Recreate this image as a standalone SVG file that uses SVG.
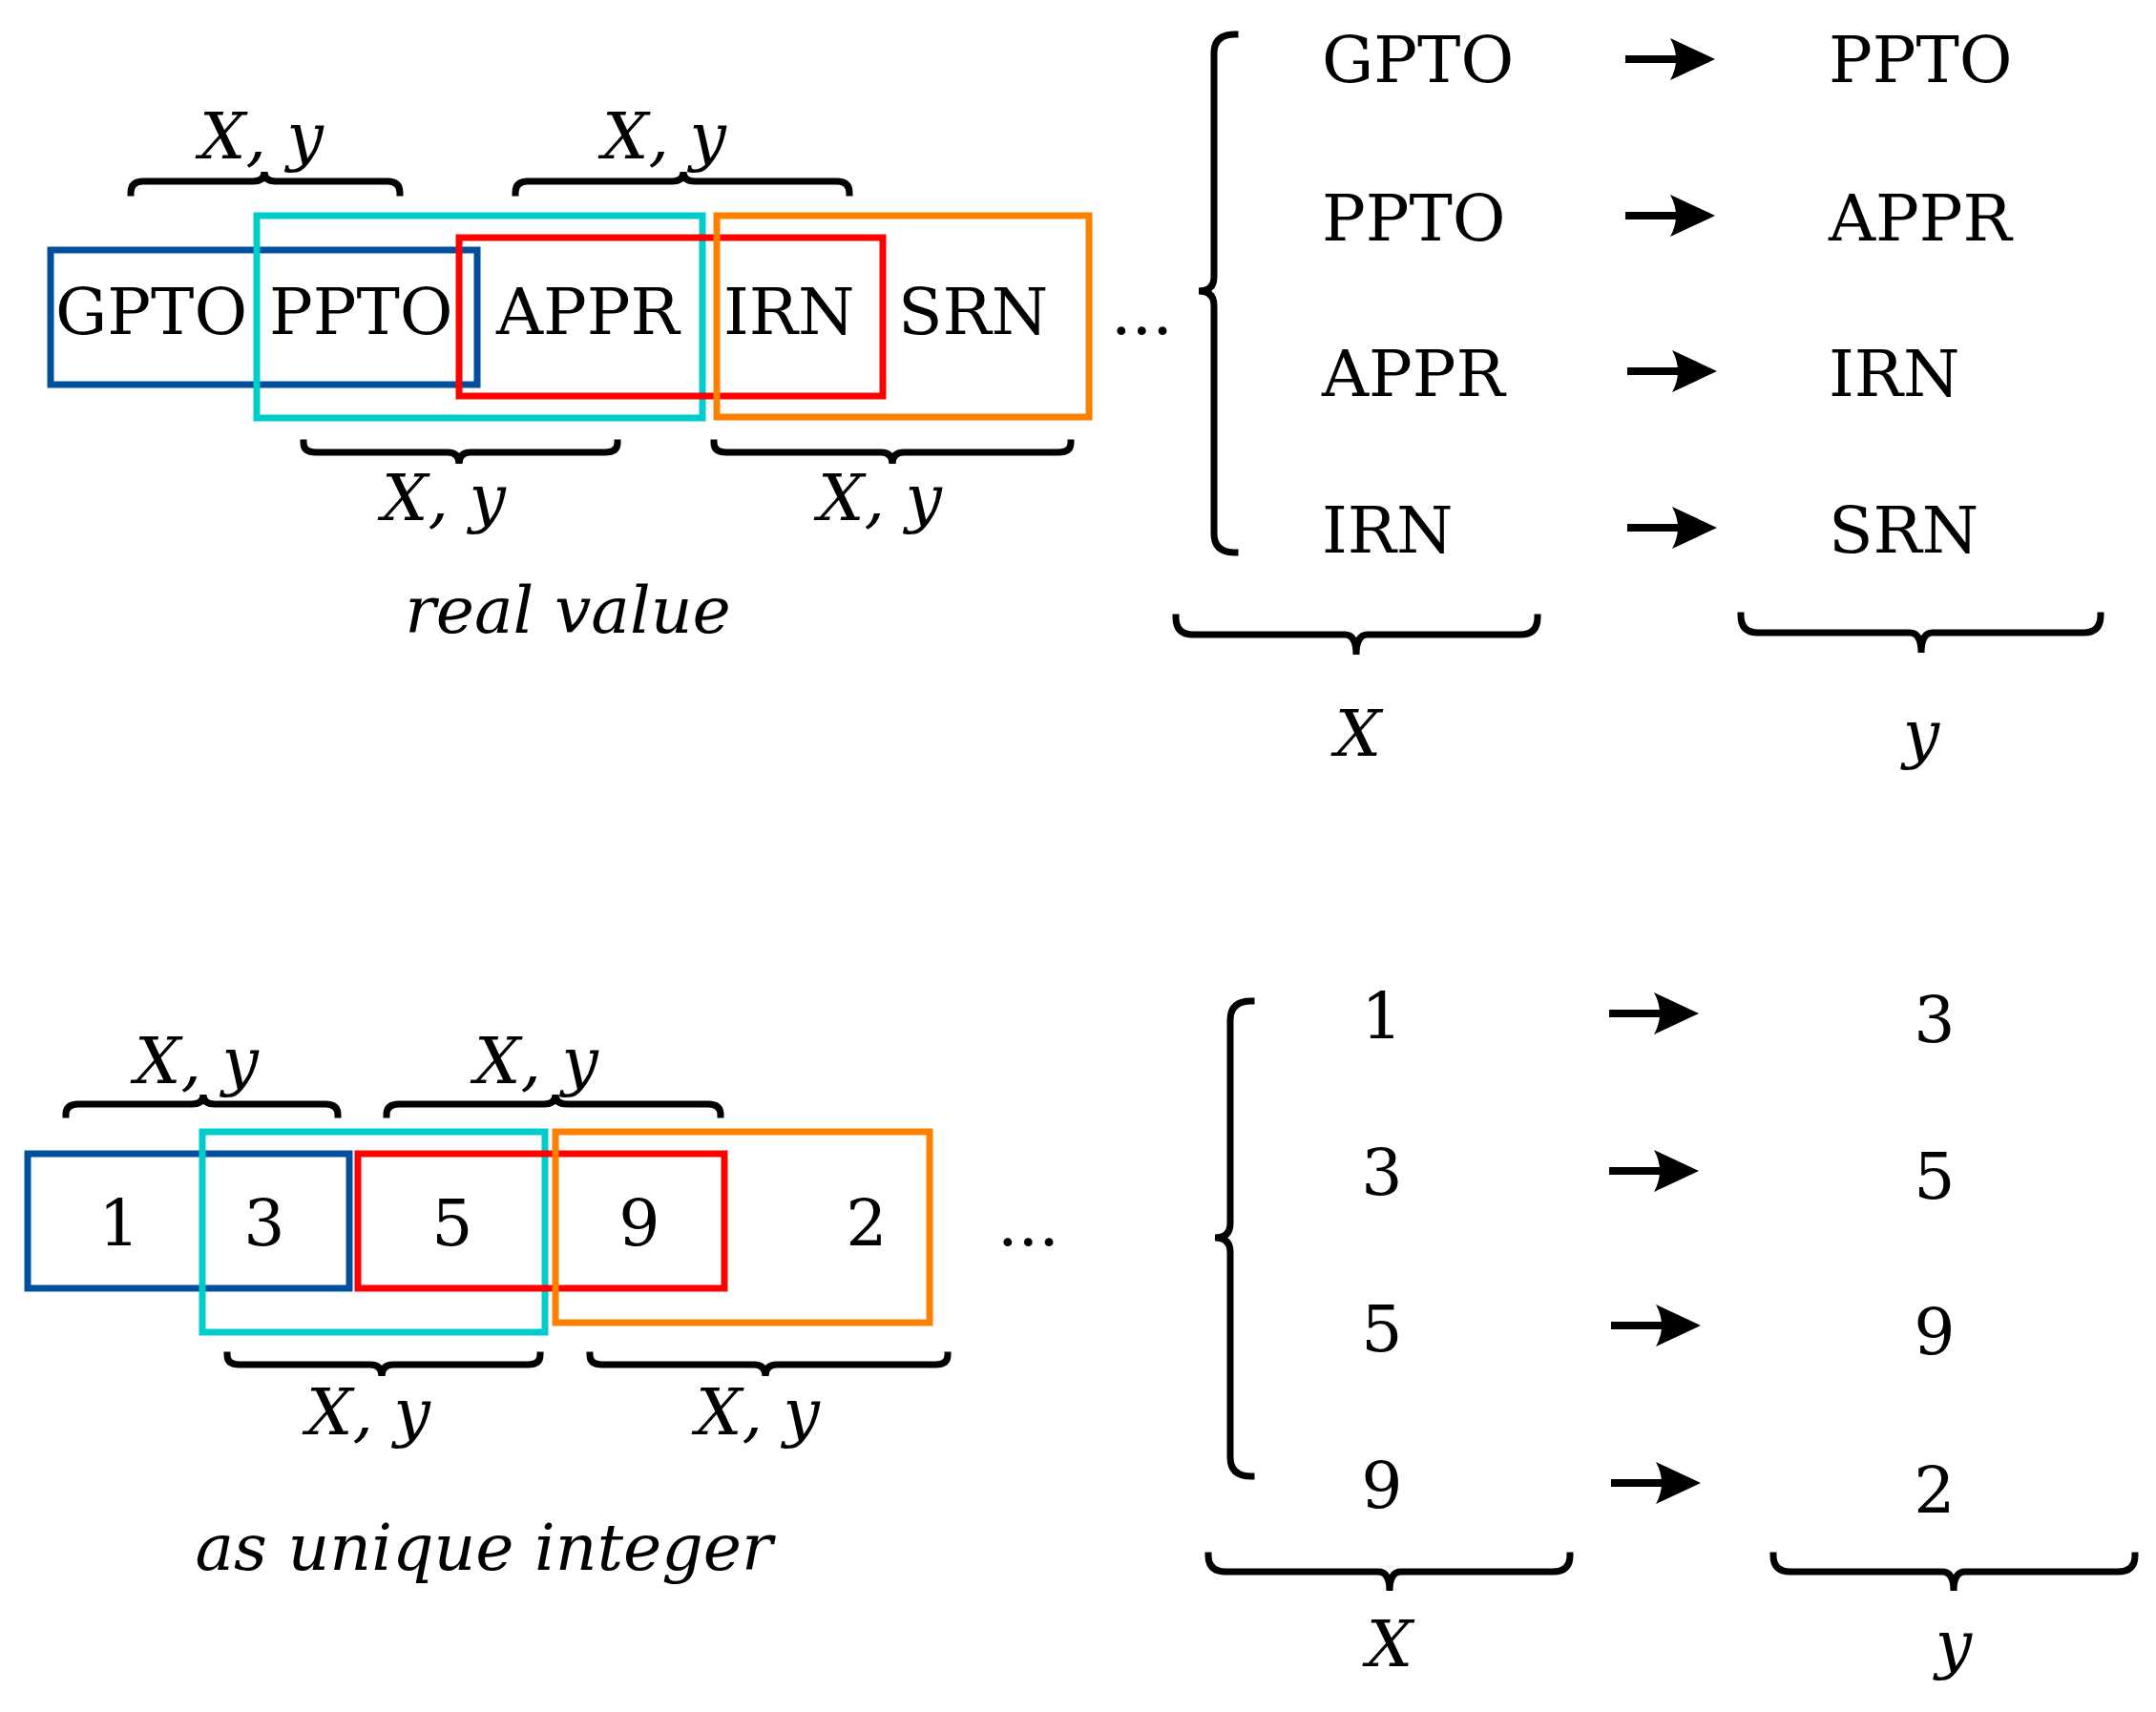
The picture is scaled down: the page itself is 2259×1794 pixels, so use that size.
<svg xmlns="http://www.w3.org/2000/svg" width="2259" height="1794" viewBox="0 0 2259 1794">
<style>
.t{font-family:"DejaVu Serif",serif;font-size:68px;fill:#000}
.i{font-family:"DejaVu Serif",serif;font-style:italic;font-size:68px;fill:#000;text-anchor:middle}
.m{text-anchor:middle}
.b{fill:none;stroke:#000;stroke-width:7;stroke-linecap:square}
.r{fill:none;stroke-width:7}
.ar{stroke:#000;stroke-width:8}
</style>
<rect width="2259" height="1794" fill="#fff"/>
<g id="top-boxes">
<rect class="r" stroke="#00509e" x="53" y="262" width="447" height="141"/>
<rect class="r" stroke="#00cccc" x="269" y="226" width="467" height="212"/>
<rect class="r" stroke="#ff0000" x="481" y="249" width="444" height="166"/>
<rect class="r" stroke="#ff8000" x="751" y="226" width="390" height="211"/>
</g>
<g id="top-seq">
<text class="t" x="58" y="350">GPTO</text>
<text class="t" x="282" y="350">PPTO</text>
<text class="t" x="520" y="350">APPR</text>
<text class="t" x="758" y="350">IRN</text>
<text class="t" x="941" y="350">SRN</text>
<text class="t" x="1164" y="350">...</text>
<text class="i" x="595" y="663">real value</text>
</g>
<g id="top-braces">
<path class="b" d="M137,202 Q137,190 150,190 L265,190 Q277,190 277,180 Q277,190 289,190 L406,190 Q419,190 419,202"/>
<text class="i" x="274" y="166">X, y</text>
<path class="b" d="M540,202 Q540,190 553,190 L704,190 Q716,190 716,180 Q716,190 728,190 L877,190 Q890,190 890,202"/>
<text class="i" x="696" y="166">X, y</text>
<path class="b" d="M318,464 Q318,474 331,474 L469,474 Q481,474 481,486 Q481,474 493,474 L634,474 Q647,474 647,464"/>
<text class="i" x="465" y="545">X, y</text>
<path class="b" d="M748,464 Q748,474 761,474 L923,474 Q935,474 935,486 Q935,474 947,474 L1109,474 Q1122,474 1122,464"/>
<text class="i" x="922" y="545">X, y</text>
</g>
<g id="top-map">
<path class="b" d="M1294,36 Q1272,36 1272,56 L1272,290 Q1272,305 1256,305 Q1272,305 1272,320 L1272,559 Q1272,579 1294,579"/>
<text class="t" x="1385" y="86">GPTO</text>
<text class="t" x="1385" y="252">PPTO</text>
<text class="t" x="1385" y="415">APPR</text>
<text class="t" x="1385" y="579">IRN</text>
<text class="t" x="1916" y="86">PPTO</text>
<text class="t" x="1916" y="252">APPR</text>
<text class="t" x="1916" y="415">IRN</text>
<text class="t" x="1916" y="579">SRN</text>
<path class="b" d="M1232,647 Q1232,665 1250,665 L1409,665 Q1421,665 1421,686 Q1421,665 1433,665 L1593,665 Q1611,665 1611,647"/>
<path class="b" d="M1824,645 Q1824,663 1842,663 L2001,663 Q2013,663 2013,684 Q2013,663 2025,663 L2183,663 Q2201,663 2201,645"/>
<text class="i" x="1423" y="792">X</text>
<text class="i" x="2013" y="792">y</text>
</g>
<g id="bottom-boxes">
<rect class="r" stroke="#00509e" x="29" y="1209" width="337" height="141"/>
<rect class="r" stroke="#00cccc" x="212" y="1186" width="359" height="210"/>
<rect class="r" stroke="#ff0000" x="375" y="1209" width="384" height="141"/>
<rect class="r" stroke="#ff8000" x="582" y="1186" width="392" height="200"/>
</g>
<g id="bottom-seq">
<text class="t m" x="125" y="1305">1</text>
<text class="t m" x="277" y="1305">3</text>
<text class="t m" x="474" y="1305">5</text>
<text class="t m" x="670" y="1305">9</text>
<text class="t m" x="908" y="1305">2</text>
<text class="t" x="1045" y="1305">...</text>
<text class="i" x="507" y="1645">as unique integer</text>
</g>
<g id="bottom-braces">
<path class="b" d="M69,1168 Q69,1157 82,1157 L201,1157 Q213,1157 213,1147 Q213,1157 225,1157 L341,1157 Q354,1157 354,1168"/>
<text class="i" x="206" y="1135">X, y</text>
<path class="b" d="M405,1168 Q405,1157 418,1157 L570,1157 Q582,1157 582,1147 Q582,1157 594,1157 L742,1157 Q755,1157 755,1168"/>
<text class="i" x="562" y="1135">X, y</text>
<path class="b" d="M238,1420 Q238,1430 251,1430 L388,1430 Q400,1430 400,1442 Q400,1430 412,1430 L553,1430 Q566,1430 566,1420"/>
<text class="i" x="386" y="1503">X, y</text>
<path class="b" d="M618,1420 Q618,1430 631,1430 L790,1430 Q802,1430 802,1442 Q802,1430 814,1430 L980,1430 Q993,1430 993,1420"/>
<text class="i" x="794" y="1503">X, y</text>
</g>
<g id="bottom-map">
<path class="b" d="M1311,1049 Q1289,1049 1289,1069 L1289,1282 Q1289,1297 1273,1297 Q1289,1297 1289,1312 L1289,1527 Q1289,1547 1311,1547"/>
<text class="t m" x="1448" y="1088">1</text>
<text class="t m" x="1448" y="1252">3</text>
<text class="t m" x="1448" y="1416">5</text>
<text class="t m" x="1448" y="1580">9</text>
<text class="t m" x="2027" y="1092">3</text>
<text class="t m" x="2027" y="1256">5</text>
<text class="t m" x="2027" y="1419">9</text>
<text class="t m" x="2027" y="1585">2</text>
<path class="b" d="M1266,1630 Q1266,1647 1284,1647 L1444,1647 Q1456,1647 1456,1667 Q1456,1647 1468,1647 L1627,1647 Q1645,1647 1645,1630"/>
<path class="b" d="M1858,1630 Q1858,1647 1876,1647 L2035,1647 Q2047,1647 2047,1667 Q2047,1647 2059,1647 L2219,1647 Q2237,1647 2237,1630"/>
<text class="i" x="1456" y="1746">X</text>
<text class="i" x="2047" y="1746">y</text>
</g>
<g id="connectors" fill="#000">
<path class="ar" d="M1703,62 H1770"/><path d="M1750,40 L1797,62 L1750,84 Q1762,62 1750,40 Z"/>
<path class="ar" d="M1703,226 H1770"/><path d="M1750,204 L1797,226 L1750,248 Q1762,226 1750,204 Z"/>
<path class="ar" d="M1705,389 H1772"/><path d="M1752,367 L1799,389 L1752,411 Q1764,389 1752,367 Z"/>
<path class="ar" d="M1705,553 H1772"/><path d="M1752,531 L1799,553 L1752,575 Q1764,553 1752,531 Z"/>
<path class="ar" d="M1686,1062 H1753"/><path d="M1733,1040 L1780,1062 L1733,1084 Q1745,1062 1733,1040 Z"/>
<path class="ar" d="M1686,1227 H1753"/><path d="M1733,1205 L1780,1227 L1733,1249 Q1745,1227 1733,1205 Z"/>
<path class="ar" d="M1688,1389 H1755"/><path d="M1735,1367 L1782,1389 L1735,1411 Q1747,1389 1735,1367 Z"/>
<path class="ar" d="M1688,1554 H1755"/><path d="M1735,1532 L1782,1554 L1735,1576 Q1747,1554 1735,1532 Z"/>
</g>
</svg>
